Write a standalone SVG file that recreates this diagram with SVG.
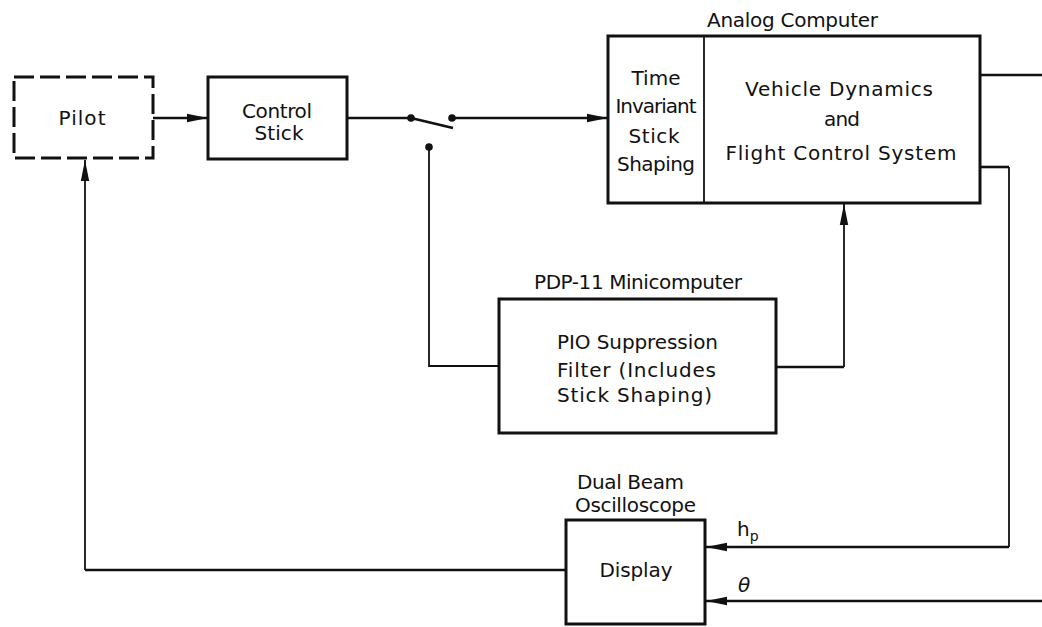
<svg xmlns="http://www.w3.org/2000/svg" width="1042" height="627" viewBox="0 0 1042 627">
<style>
.box{fill:none;stroke:#111;stroke-width:3}
.dash{fill:none;stroke:#111;stroke-width:3;stroke-dasharray:20 6}
.ln{fill:none;stroke:#111;stroke-width:2.6}
.thin{fill:none;stroke:#111;stroke-width:1.8}
text{font-family:"DejaVu Sans","Liberation Sans",sans-serif;font-size:20px;fill:#111}
.m{text-anchor:middle}
</style>
<defs>
<marker id="ah" markerUnits="userSpaceOnUse" markerWidth="22" markerHeight="10" refX="21" refY="5" orient="auto">
<path d="M0,0.8 L21,5 L0,9.2 Z" fill="#111"/>
</marker>
</defs>
<rect width="1042" height="627" fill="#fff"/>
<g id="connectors">
<line class="ln" x1="153" y1="118" x2="208" y2="118" marker-end="url(#ah)"/>
<line class="ln" x1="347" y1="118" x2="411" y2="118"/>
<line class="ln" x1="411" y1="118" x2="453" y2="128"/>
<circle cx="411" cy="118" r="3.8" fill="#111"/>
<circle cx="452" cy="118" r="3.8" fill="#111"/>
<line class="ln" x1="452" y1="118" x2="608" y2="118" marker-end="url(#ah)"/>
<circle cx="429" cy="147" r="3.8" fill="#111"/>
<polyline class="thin" points="429,147 429,366 499,366"/>
<polyline class="ln" points="776,367 844,367"/>
<line class="thin" x1="844" y1="367" x2="844" y2="204" marker-end="url(#ah)"/>
<line class="ln" x1="980" y1="75" x2="1042" y2="75"/>
<polyline class="ln" points="980,167 1009,167"/>
<line class="thin" x1="1009" y1="167" x2="1009" y2="547"/>
<line class="ln" x1="1009" y1="547" x2="706" y2="547" marker-end="url(#ah)"/>
<line class="ln" x1="1042" y1="601" x2="706" y2="601" marker-end="url(#ah)"/>
<polyline class="ln" points="566,570 85,570"/>
<line class="thin" x1="85" y1="570" x2="85" y2="160" marker-end="url(#ah)"/>
</g>
<g id="pilot">
<rect class="dash" x="14" y="77" width="139" height="81"/>
<text class="m" x="82" y="125" textLength="47" lengthAdjust="spacing">Pilot</text>
</g>
<g id="control-stick">
<rect class="box" x="208" y="77" width="139" height="82"/>
<text class="m" x="277" y="118" textLength="70" lengthAdjust="spacing">Control</text>
<text class="m" x="279" y="140" textLength="49" lengthAdjust="spacing">Stick</text>
</g>
<g id="analog-computer">
<text x="707" y="27" textLength="171" lengthAdjust="spacing">Analog Computer</text>
<rect class="box" x="608" y="36" width="372" height="167"/>
<line class="thin" x1="704" y1="36" x2="704" y2="203"/>
<text class="m" x="656" y="85" textLength="49" lengthAdjust="spacing">Time</text>
<text class="m" x="656" y="113" textLength="81" lengthAdjust="spacing">Invariant</text>
<text class="m" x="654" y="143" textLength="51" lengthAdjust="spacing">Stick</text>
<text class="m" x="656" y="171" textLength="78" lengthAdjust="spacing">Shaping</text>
<text class="m" x="839" y="96" textLength="188" lengthAdjust="spacing">Vehicle Dynamics</text>
<text class="m" x="842" y="126" textLength="36" lengthAdjust="spacing">and</text>
<text class="m" x="841" y="160" textLength="231" lengthAdjust="spacing">Flight Control System</text>
</g>
<g id="pio-filter">
<text x="534" y="289" textLength="208" lengthAdjust="spacing">PDP-11 Minicomputer</text>
<rect class="box" x="499" y="299" width="277" height="134"/>
<text x="557" y="349" textLength="161" lengthAdjust="spacing">PIO Suppression</text>
<text x="557" y="377" textLength="159" lengthAdjust="spacing">Filter (Includes</text>
<text x="557" y="402" textLength="155" lengthAdjust="spacing">Stick Shaping)</text>
</g>
<g id="display">
<text x="577" y="489" textLength="107" lengthAdjust="spacing">Dual Beam</text>
<text x="575" y="512" textLength="121" lengthAdjust="spacing">Oscilloscope</text>
<rect class="box" x="566" y="520" width="139" height="104"/>
<text class="m" x="636" y="577" textLength="73" lengthAdjust="spacing">Display</text>
</g>
<g id="signal-labels">
<text x="737" y="536">h<tspan font-size="14" dy="5">p</tspan></text>
<text x="738" y="592" font-style="italic">θ</text>
</g>
</svg>
